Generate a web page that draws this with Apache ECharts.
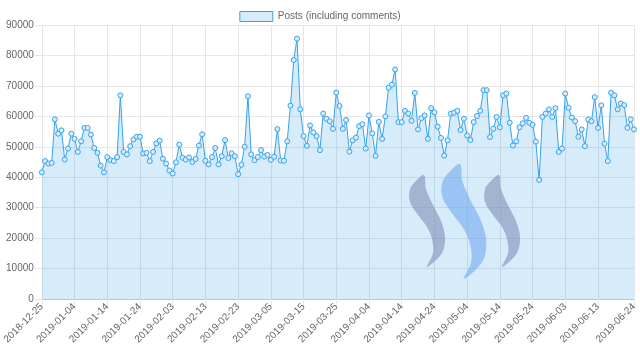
<!DOCTYPE html>
<html>
<head>
<meta charset="utf-8">
<script src="https://cdn.jsdelivr.net/npm/echarts@6/dist/echarts.min.js"></script>
<style>
html,body{margin:0;padding:0;background:#fff;}
#chart{width:640px;height:361px;}
</style>
</head>
<body>
<div id="chart"></div>
<script>
// Category dates: daily from 2018-12-25 to 2019-06-24
var startDate = '2018-12-25';
var dayCount = 182;
var dates = [];
(function(){
  var d = new Date(startDate + 'T00:00:00Z');
  for (var i = 0; i < dayCount; i++) {
    var t = new Date(d.getTime() + i * 86400000);
    var m = ('0' + (t.getUTCMonth() + 1)).slice(-2);
    var dd = ('0' + t.getUTCDate()).slice(-2);
    dates.push(t.getUTCFullYear() + '-' + m + '-' + dd);
  }
})();

var seriesName = 'Posts (including comments)';
var posts = [
  41600,45300,44500,44700,59000,54300,55400,45800,49400,54300,
  52600,48300,51800,56200,56200,54000,49600,48000,43800,41600,
  46600,45600,45300,46600,66900,48300,47500,50200,52400,53300,
  53300,47800,48000,45300,48300,51100,52000,46100,44500,42200,
  41200,44900,50700,46400,45800,46500,45000,46000,50400,54100,
  45400,44200,46600,49600,44200,46900,52200,46300,47900,46900,
  41000,44100,50000,66600,47500,45600,46600,48900,46800,47300,
  45700,46700,55800,45500,45400,51800,63500,78500,85500,62300,
  53500,50300,57000,54700,53500,48900,60900,59200,58400,55900,
  67800,63400,55900,58800,48400,52100,53000,56800,57400,49400,
  60300,54400,47000,58200,52600,60000,69400,70400,75400,58100,
  58100,61800,60900,58500,67700,55700,59400,60300,52600,62700,
  61300,56600,52900,47100,52100,60900,61200,61800,55500,59200,
  53700,52200,58100,60100,61800,68600,68600,53200,55900,59800,
  56400,66900,67500,57900,50400,51800,56400,57700,59500,57900,
  57200,51700,39100,59800,60900,62300,59800,62700,48300,49400,
  67500,62800,59600,58400,53300,55700,50200,59000,58400,66300,
  56200,63600,51000,45300,67700,66900,62300,64200,63700,56200,
  59000,55700
];
var yMin = 0, yMax = 90000, yStep = 10000;

function showTick(i) {
  return (i % 10 === 0 && i <= 170) || i === dates.length - 1;
}

// Watermark swoosh outline (decoration only)
var swooshPts = [[0,0],[2,14],[9,30],[17,46],[21,62],[18,78],[3,92],[9,78],[8,64],[3,52],[-6,40],[-14,27],[-14,14],[-8,6]];
function swoosh(ox, oy, s) {
  return swooshPts.map(function(p){ return [ox + p[0] * s, oy + p[1] * s]; });
}

var chart = echarts.init(document.getElementById('chart'), null, {renderer: 'canvas'});
chart.setOption({
  animation: false,
  textStyle: {fontFamily: 'Liberation Sans, Arial, sans-serif'},
  legend: {
    top: 6,
    left: 'center',
    icon: 'rect',
    itemWidth: 33,
    itemHeight: 10,
    itemGap: 10,
    itemStyle: {color: 'rgba(54,162,235,0.2)', borderColor: '#36a2eb', borderWidth: 1},
    textStyle: {fontSize: 10, color: '#666', fontFamily: 'Liberation Sans, Arial, sans-serif'},
    data: [seriesName]
  },
  grid: {left: 39, right: 6, top: 25, bottom: 62, containLabel: false},
  xAxis: {
    type: 'category',
    boundaryGap: false,
    data: dates,
    axisLine: {show: true, lineStyle: {color: '#c4c4c4', width: 1}},
    axisTick: {show: true, length: 6, interval: showTick, lineStyle: {color: '#e6e6e6'}},
    axisLabel: {
      rotate: 45,
      fontSize: 10,
      color: '#666',
      margin: 6,
      interval: showTick,
      fontFamily: 'Liberation Sans, Arial, sans-serif'
    },
    splitLine: {show: true, interval: showTick, lineStyle: {color: '#e6e6e6', width: 1}}
  },
  yAxis: {
    type: 'value',
    min: yMin,
    max: yMax,
    interval: yStep,
    axisLine: {show: true, lineStyle: {color: '#e6e6e6'}},
    axisTick: {show: true, length: 7, lineStyle: {color: '#e6e6e6'}},
    axisLabel: {fontSize: 10, color: '#666', margin: 8, formatter: function(v){ return String(v); }, fontFamily: 'Liberation Sans, Arial, sans-serif'},
    splitLine: {show: true, lineStyle: {color: '#e6e6e6', width: 1}}
  },
  graphic: [
    {type: 'polygon', z: 100, shape: {points: swoosh(424, 175, 1), smooth: 0.35}, style: {fill: 'rgb(121,134,177)', opacity: 0.55}},
    {type: 'polygon', z: 100, shape: {points: swoosh(460, 164, 1.25), smooth: 0.35}, style: {fill: 'rgb(105,164,239)', opacity: 0.55}},
    {type: 'polygon', z: 100, shape: {points: swoosh(499, 175, 1), smooth: 0.35}, style: {fill: 'rgb(121,134,177)', opacity: 0.55}}
  ],
  series: [{
    name: seriesName,
    type: 'line',
    data: posts,
    smooth: false,
    symbol: 'circle',
    symbolSize: 5,
    showAllSymbol: true,
    itemStyle: {color: '#d7ecfb', borderColor: '#36a2eb', borderWidth: 1},
    lineStyle: {color: '#36a2eb', width: 1},
    areaStyle: {color: 'rgba(54,162,235,0.2)', opacity: 1, origin: 'start'}
  }]
});
</script>
</body>
</html>
